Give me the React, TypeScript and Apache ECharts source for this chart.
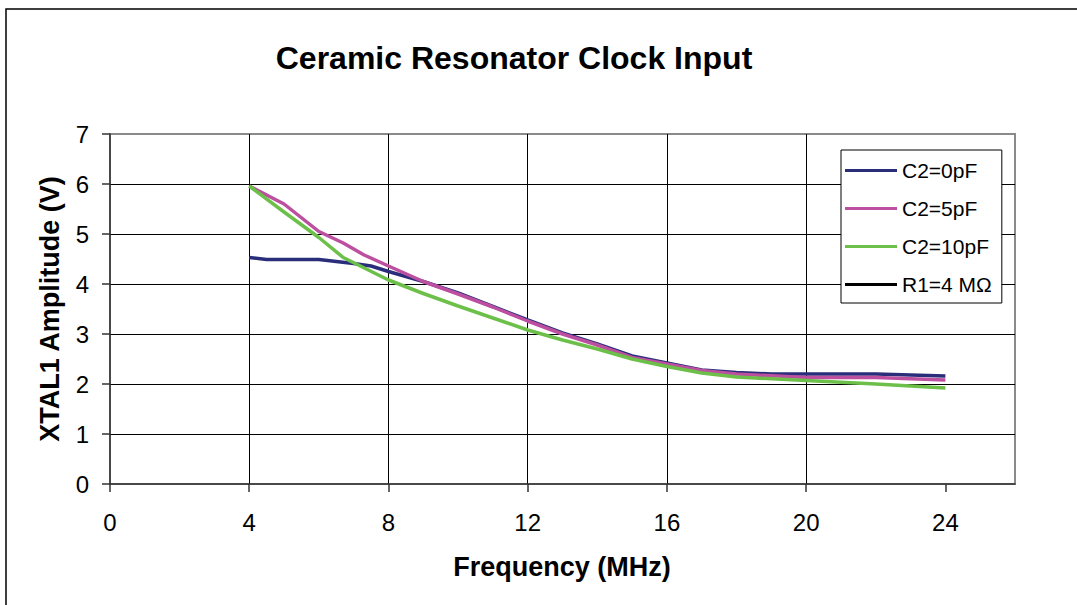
import React, { useEffect, useRef } from "react";
import * as echarts from "echarts";

const titleText = "Ceramic Resonator Clock Input";
const xAxisTitle = "Frequency (MHz)";
const yAxisTitle = "XTAL1 Amplitude (V)";

const seriesNames = ["C2=0pF", "C2=5pF", "C2=10pF", "R1=4 MΩ"];
const seriesColors = ["#2A2E7A", "#BC4FA0", "#6CC04A", "#000000"];

const freq0pF = [4, 4.5, 6, 7, 7.5, 8, 9, 10, 11, 12, 13, 14, 15, 16, 17, 18, 19, 20, 22, 24];
const amp0pF = [4.53, 4.49, 4.49, 4.41, 4.36, 4.25, 4.05, 3.82, 3.55, 3.28, 3.02, 2.8, 2.56, 2.42, 2.28, 2.23, 2.2, 2.2, 2.2, 2.16];

const freq5pF = [4, 5, 6, 6.7, 7.3, 8, 9, 10, 11, 12, 13, 14, 15, 16, 17, 18, 20, 22, 24];
const amp5pF = [5.96, 5.6, 5.05, 4.82, 4.58, 4.36, 4.05, 3.8, 3.54, 3.26, 3.0, 2.78, 2.53, 2.4, 2.27, 2.2, 2.13, 2.13, 2.08];

const freq10pF = [4, 5, 6, 6.7, 8, 9, 10, 11, 12, 13, 14, 15, 16, 17, 18, 20, 22, 24];
const amp10pF = [5.96, 5.44, 4.93, 4.53, 4.08, 3.81, 3.56, 3.32, 3.08, 2.88, 2.7, 2.5, 2.35, 2.22, 2.14, 2.07, 2.0, 1.92];

const freqR1: number[] = [];
const ampR1: number[] = [];

const xTickLabels = [0, 4, 8, 12, 16, 20, 24];
const yTickLabels = [0, 1, 2, 3, 4, 5, 6, 7];

const FONT = "'Liberation Sans', Arial, Helvetica, sans-serif";

function pairs(xs: number[], ys: number[]) {
  return xs.map((x, i) => [x, ys[i]]);
}

export default function App() {
  const ref = useRef<HTMLDivElement>(null);
  useEffect(() => {
    if (!ref.current) return;
    const chart = echarts.init(ref.current, undefined, { renderer: "svg" });
    const dataSets = [
      pairs(freq0pF, amp0pF),
      pairs(freq5pF, amp5pF),
      pairs(freq10pF, amp10pF),
      pairs(freqR1, ampR1),
    ];
    chart.setOption({
      animation: false,
      backgroundColor: "#ffffff",
      textStyle: { fontFamily: FONT },
      grid: {
        left: 110,
        top: 134,
        width: 905,
        height: 350,
        show: true,
        borderColor: "#8a8a8a",
        borderWidth: 2,
        backgroundColor: "transparent",
      },
      xAxis: {
        type: "value",
        min: 0,
        max: 26,
        interval: 2,
        axisLine: { show: true, onZero: false, lineStyle: { color: "#333", width: 1.5 } },
        axisTick: {
          show: true,
          length: 8,
          inside: false,
          customValues: xTickLabels,
          lineStyle: { color: "#333", width: 1.5 },
        },
        axisLabel: {
          customValues: xTickLabels,
          fontSize: 24,
          color: "#000",
          fontFamily: FONT,
          margin: 26,
        },
        splitLine: {
          show: true,
          showMinLine: false,
          showMaxLine: false,
          lineStyle: { color: "#000", width: 1 },
        },
      },
      yAxis: {
        type: "value",
        min: 0,
        max: 7,
        interval: 1,
        axisLine: { show: true, onZero: false, lineStyle: { color: "#333", width: 1.5 } },
        axisTick: {
          show: true,
          length: 8,
          inside: false,
          customValues: yTickLabels,
          lineStyle: { color: "#333", width: 1.5 },
        },
        axisLabel: {
          customValues: yTickLabels,
          fontSize: 24,
          color: "#000",
          fontFamily: FONT,
          margin: 21,
        },
        splitLine: {
          show: true,
          showMinLine: false,
          showMaxLine: false,
          lineStyle: { color: "#000", width: 1 },
        },
      },
      legend: {
        orient: "vertical",
        left: 841,
        top: 150,
        icon: "rect",
        itemWidth: 52,
        itemHeight: 3,
        itemGap: 17,
        itemTextGap: 5,
        padding: [10, 10, 8, 4],
        borderColor: "#000",
        borderWidth: 1,
        borderRadius: 0,
        backgroundColor: "#ffffff",
        textStyle: { fontSize: 21, color: "#000", fontFamily: FONT },
        data: seriesNames,
      },
      series: seriesNames.map((name, i) => ({
        name,
        type: "line",
        data: dataSets[i],
        showSymbol: false,
        symbol: "none",
        color: seriesColors[i],
        lineStyle: { color: seriesColors[i], width: i === 3 ? 1.5 : 3.5 },
        smooth: false,
        z: 3 + i,
      })),
      graphic: [
        {
          type: "rect",
          shape: { x: 6, y: 9, width: 1300, height: 900 },
          style: { fill: "none", stroke: "#000", lineWidth: 1.5 },
          silent: true,
        },
        {
          type: "text",
          x: 514,
          y: 58,
          style: {
            text: titleText,
            fontSize: 32,
            fontWeight: "bold",
            fontFamily: FONT,
            fill: "#000",
            textAlign: "center",
            textVerticalAlign: "middle",
          },
        },
        {
          type: "text",
          x: 562,
          y: 567,
          style: {
            text: xAxisTitle,
            fontSize: 27,
            fontWeight: "bold",
            fontFamily: FONT,
            fill: "#000",
            textAlign: "center",
            textVerticalAlign: "middle",
          },
        },
        {
          type: "text",
          x: 50,
          y: 309,
          rotation: Math.PI / 2,
          style: {
            text: yAxisTitle,
            fontSize: 27,
            fontWeight: "bold",
            fontFamily: FONT,
            fill: "#000",
            textAlign: "center",
            textVerticalAlign: "middle",
          },
        },
      ],
    });
    return () => chart.dispose();
  }, []);
  return (
    <div
      ref={ref}
      style={{ position: "fixed", left: 0, top: 0, width: 1077, height: 605 }}
    />
  );
}
